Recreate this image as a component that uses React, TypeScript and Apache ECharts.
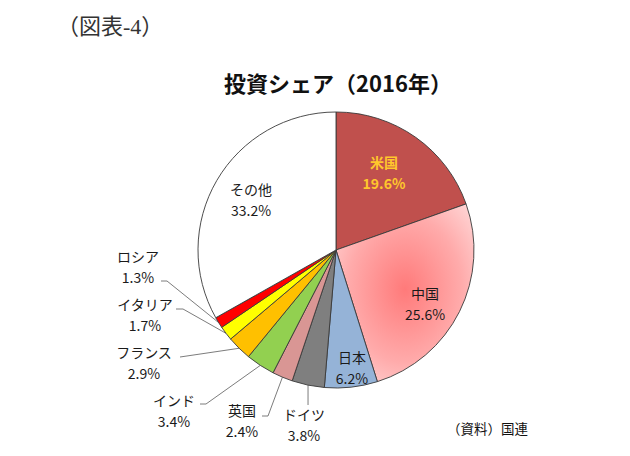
import React, { useEffect, useRef } from 'react';
import * as echarts from 'echarts';

// ---- data ----
const categories = ['米国', '中国', '日本', 'ドイツ', '英国', 'インド', 'フランス', 'イタリア', 'ロシア', 'その他'];
const shares = [19.6, 25.6, 6.2, 3.8, 2.4, 3.4, 2.9, 1.7, 1.3, 33.2];

// ---- styles ----
const chinaGradient = {
  type: 'radial',
  x: 0.5,
  y: 0.48,
  r: 0.75,
  colorStops: [
    { offset: 0, color: '#FF7A7A' },
    { offset: 0.55, color: '#FFABAB' },
    { offset: 1, color: '#FFE4E4' },
  ],
};
const sliceColors: any[] = ['#C0504D', chinaGradient, '#95B3D7', '#7F7F7F', '#D99694', '#92D050', '#FFC000', '#FFFF00', '#FF0000', '#FFFFFF'];
const insideIdx = [0, 1, 2, 9];

// label block centres and leader-line bends (layout only)
const labelSpots: { x: number; y: number; bend?: number[][]; vertical?: number }[] = [
  { x: 384, y: 172 },
  { x: 425, y: 303 },
  { x: 352, y: 367 },
  { x: 304, y: 424, vertical: 405 },
  { x: 242, y: 420, bend: [[268, 416], [262, 416]] },
  { x: 174, y: 410, bend: [[206, 404], [200, 404]] },
  { x: 144, y: 362, bend: [[180, 357]] },
  { x: 145, y: 314, bend: [[183, 309], [176, 309]] },
  { x: 138, y: 266, bend: [[167, 281], [161, 281]] },
  { x: 251, y: 199 },
];

const CX = 336, CY = 250, R = 138;
const FONT = "'Noto Sans CJK JP', 'Noto Sans', sans-serif";

function anchorFor(i: number): number[] {
  const total = shares.reduce((a, b) => a + b, 0);
  let before = 0;
  for (let k = 0; k < i; k++) before += shares[k];
  const mid = ((before + shares[i] / 2) / total) * Math.PI * 2;
  return [CX + R * Math.sin(mid), CY - R * Math.cos(mid)];
}

export default function App() {
  const ref = useRef<HTMLDivElement>(null);
  useEffect(() => {
    if (!ref.current) return;
    const chart = echarts.init(ref.current, undefined, { renderer: 'svg' });
    const data = categories.map((name, i) => {
      const inside = insideIdx.includes(i);
      return {
        name,
        value: shares[i],
        itemStyle: { color: sliceColors[i] },
        label: {
          position: inside ? 'inside' : 'outside',
          color: i === 0 ? '#FFC72C' : '#1A1A1A',
          fontWeight: i === 0 ? 'bold' : 'normal',
        },
        labelLine: { show: !inside },
      };
    });
    chart.setOption({
      animation: false,
      backgroundColor: '#FFFFFF',
      graphic: [
        {
          type: 'text',
          x: 57,
          y: 26,
          style: {
            text: '（図表-4）',
            font: "22px 'Liberation Serif', 'Noto Sans CJK JP', serif",
            fill: '#333333',
            textAlign: 'left',
            textVerticalAlign: 'middle',
          },
        },
        {
          type: 'text',
          x: 338,
          y: 82,
          style: {
            text: '投資シェア（2016年）',
            font: `bold 22px ${FONT}`,
            fill: '#111111',
            textAlign: 'center',
            textVerticalAlign: 'middle',
          },
        },
        {
          type: 'text',
          x: 447,
          y: 428,
          style: {
            text: '（資料）国連',
            font: `13.5px ${FONT}`,
            fill: '#111111',
            textAlign: 'left',
            textVerticalAlign: 'middle',
          },
        },
      ],
      series: [
        {
          type: 'pie',
          center: [CX, CY],
          radius: R,
          startAngle: 90,
          clockwise: true,
          avoidLabelOverlap: false,
          minShowLabelAngle: 0,
          silent: true,
          emphasis: { disabled: true },
          itemStyle: { borderColor: '#3A3A3A', borderWidth: 0.9 },
          label: {
            show: true,
            formatter: '{b}\n{c}%',
            fontSize: 14,
            lineHeight: 21,
            fontFamily: FONT,
            align: 'center',
          },
          labelLine: {
            show: true,
            length: 10,
            length2: 10,
            lineStyle: { color: '#5A5A5A', width: 0.8 },
          },
          labelLayout: (params: any) => {
            const i = params.dataIndex;
            const spot = labelSpots[i];
            const out: any = { x: spot.x, y: spot.y, align: 'center', verticalAlign: 'middle' };
            if (!insideIdx.includes(i)) {
              const A = (params.labelLinePoints && params.labelLinePoints[0]) || anchorFor(i);
              if (spot.vertical != null) {
                out.labelLinePoints = [A, [A[0], spot.vertical]];
              } else {
                out.labelLinePoints = [A, ...(spot.bend || [])];
              }
            }
            return out;
          },
          data,
        },
      ],
    });
    return () => chart.dispose();
  }, []);
  return (
    <div
      ref={ref}
      style={{ position: 'fixed', left: 0, top: 0, width: 630, height: 456, background: '#fff' }}
    />
  );
}
